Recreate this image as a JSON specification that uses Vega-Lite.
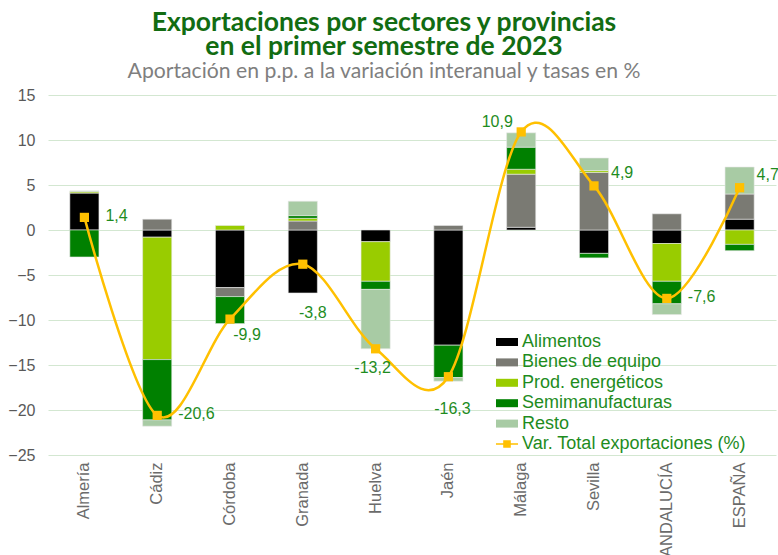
{
  "$schema": "https://vega.github.io/schema/vega-lite/v6.json",
  "width": 728,
  "height": 360,
  "autosize": {"type": "none"},
  "padding": {"left": 48, "top": 95, "right": 2, "bottom": 100},
  "background": "white",
  "config": {"view": {"stroke": null}, "font": "Liberation Sans"},
  "title": {
    "text": ["Exportaciones por sectores y provincias", "en el primer semestre de 2023"],
    "subtitle": "Aportación en p.p. a la variación interanual y tasas en %",
    "font": "Lato",
    "fontSize": 26.5,
    "fontWeight": "bold",
    "color": "#126C12",
    "lineHeight": 24,
    "subtitleFont": "Lato",
    "subtitleFontSize": 21.2,
    "subtitleColor": "#7F7F7F",
    "subtitlePadding": 0,
    "anchor": "middle",
    "frame": "group",
    "dx": -28,
    "offset": 5
  },
  "datasets": {
    "bars": [
      {"prov": "Almería", "sector": "Alimentos", "value": 4.1},
      {"prov": "Almería", "sector": "Prod. energéticos", "value": 0.15},
      {"prov": "Almería", "sector": "Resto", "value": 0.1},
      {"prov": "Almería", "sector": "Semimanufacturas", "value": -3.0},
      {"prov": "Cádiz", "sector": "Alimentos", "value": -0.8},
      {"prov": "Cádiz", "sector": "Bienes de equipo", "value": 1.2},
      {"prov": "Cádiz", "sector": "Prod. energéticos", "value": -13.6},
      {"prov": "Cádiz", "sector": "Semimanufacturas", "value": -6.7},
      {"prov": "Cádiz", "sector": "Resto", "value": -0.7},
      {"prov": "Córdoba", "sector": "Alimentos", "value": -6.4},
      {"prov": "Córdoba", "sector": "Bienes de equipo", "value": -1.0},
      {"prov": "Córdoba", "sector": "Prod. energéticos", "value": 0.5},
      {"prov": "Córdoba", "sector": "Semimanufacturas", "value": -3.0},
      {"prov": "Granada", "sector": "Alimentos", "value": -7.0},
      {"prov": "Granada", "sector": "Bienes de equipo", "value": 1.0},
      {"prov": "Granada", "sector": "Prod. energéticos", "value": 0.3},
      {"prov": "Granada", "sector": "Semimanufacturas", "value": 0.3},
      {"prov": "Granada", "sector": "Resto", "value": 1.6},
      {"prov": "Huelva", "sector": "Alimentos", "value": -1.3},
      {"prov": "Huelva", "sector": "Prod. energéticos", "value": -4.4},
      {"prov": "Huelva", "sector": "Semimanufacturas", "value": -0.9},
      {"prov": "Huelva", "sector": "Resto", "value": -6.6},
      {"prov": "Jaén", "sector": "Alimentos", "value": -12.8},
      {"prov": "Jaén", "sector": "Bienes de equipo", "value": 0.5},
      {"prov": "Jaén", "sector": "Semimanufacturas", "value": -3.6},
      {"prov": "Jaén", "sector": "Resto", "value": -0.4},
      {"prov": "Málaga", "sector": "Alimentos", "value": 0.3},
      {"prov": "Málaga", "sector": "Bienes de equipo", "value": 5.9},
      {"prov": "Málaga", "sector": "Prod. energéticos", "value": 0.55},
      {"prov": "Málaga", "sector": "Semimanufacturas", "value": 2.45},
      {"prov": "Málaga", "sector": "Resto", "value": 1.6},
      {"prov": "Sevilla", "sector": "Alimentos", "value": -2.6},
      {"prov": "Sevilla", "sector": "Bienes de equipo", "value": 6.4},
      {"prov": "Sevilla", "sector": "Prod. energéticos", "value": 0.2},
      {"prov": "Sevilla", "sector": "Semimanufacturas", "value": -0.5},
      {"prov": "Sevilla", "sector": "Resto", "value": 1.4},
      {"prov": "ANDALUCÍA", "sector": "Alimentos", "value": -1.5},
      {"prov": "ANDALUCÍA", "sector": "Bienes de equipo", "value": 1.8},
      {"prov": "ANDALUCÍA", "sector": "Prod. energéticos", "value": -4.2},
      {"prov": "ANDALUCÍA", "sector": "Semimanufacturas", "value": -2.5},
      {"prov": "ANDALUCÍA", "sector": "Resto", "value": -1.2},
      {"prov": "ESPAÑA", "sector": "Alimentos", "value": 1.2},
      {"prov": "ESPAÑA", "sector": "Bienes de equipo", "value": 2.8},
      {"prov": "ESPAÑA", "sector": "Prod. energéticos", "value": -1.6},
      {"prov": "ESPAÑA", "sector": "Semimanufacturas", "value": -0.7},
      {"prov": "ESPAÑA", "sector": "Resto", "value": 3.0}
    ],
    "total": [
      {"prov": "Almería", "total": 1.4, "label": "1,4"},
      {"prov": "Cádiz", "total": -20.6, "label": "-20,6"},
      {"prov": "Córdoba", "total": -9.9, "label": "-9,9"},
      {"prov": "Granada", "total": -3.8, "label": "-3,8"},
      {"prov": "Huelva", "total": -13.2, "label": "-13,2"},
      {"prov": "Jaén", "total": -16.3, "label": "-16,3"},
      {"prov": "Málaga", "total": 10.9, "label": "10,9"},
      {"prov": "Sevilla", "total": 4.9, "label": "4,9"},
      {"prov": "ANDALUCÍA", "total": -7.6, "label": "-7,6"},
      {"prov": "ESPAÑA", "total": 4.7, "label": "4,7"}
    ]
  },
  "encoding": {
    "x": {
      "field": "prov",
      "type": "nominal",
      "sort": ["Almería", "Cádiz", "Córdoba", "Granada", "Huelva", "Jaén", "Málaga", "Sevilla", "ANDALUCÍA", "ESPAÑA"],
      "scale": {"paddingInner": 0.6, "paddingOuter": 0.3},
      "axis": {
        "title": null,
        "labelAngle": -90,
        "labelAlign": "right",
        "labelBaseline": "middle",
        "labelFontSize": 16.5,
        "labelColor": "#6B6B6B",
        "labelPadding": 7,
        "ticks": false,
        "domain": false
      }
    }
  },
  "layer": [
    {
      "data": {"name": "bars"},
      "transform": [
        {"calculate": "indexof(['Alimentos','Bienes de equipo','Prod. energéticos','Semimanufacturas','Resto'], datum.sector)", "as": "ord"}
      ],
      "mark": {"type": "bar", "stroke": "#E8E8E8", "strokeWidth": 0.6},
      "encoding": {
        "y": {
          "field": "value",
          "type": "quantitative",
          "stack": "zero",
          "scale": {"domain": [-25, 15], "nice": false},
          "axis": {
            "title": null,
            "values": [-25, -20, -15, -10, -5, 0, 5, 10, 15],
            "labelFontSize": 16,
            "labelColor": "#595959",
            "labelPadding": 13,
            "ticks": false,
            "domain": false,
            "gridColor": "#D3E7D1",
            "gridWidth": 1.2
          }
        },
        "color": {
          "field": "sector",
          "type": "nominal",
          "scale": {
            "domain": ["Alimentos", "Bienes de equipo", "Prod. energéticos", "Semimanufacturas", "Resto"],
            "range": ["#000000", "#7A7A73", "#99CC00", "#008000", "#A8CBA4"]
          },
          "legend": {
            "title": null,
            "orient": "none",
            "legendX": 450,
            "legendY": 238,
            "symbolType": "M-1.6,-0.58 L1.6,-0.58 L1.6,0.58 L-1.6,0.58 Z",
            "symbolSize": 190,
            "symbolStrokeWidth": 0,
            "labelFontSize": 18,
            "labelColor": "#1E8C1E",
            "labelOffset": 6,
            "labelLimit": 300,
            "rowPadding": 2.4,
            "padding": 0
          }
        },
        "order": {"field": "ord", "type": "quantitative"}
      }
    },
    {
      "mark": {"type": "rule", "color": "#006400", "strokeWidth": 1.5},
      "encoding": {"y": {"datum": 0}}
    },
    {
      "data": {"name": "total"},
      "mark": {"type": "line", "interpolate": "cardinal", "tension": 0, "strokeWidth": 2.5},
      "encoding": {
        "y": {"field": "total", "type": "quantitative"},
        "stroke": {
          "datum": "Var. Total exportaciones (%)",
          "scale": {"range": ["#FFC000"]},
          "legend": {
            "title": null,
            "orient": "none",
            "legendX": 450,
            "legendY": 340,
            "symbolType": "M-1.6,-0.12 L1.6,-0.12 L1.6,0.12 L-1.6,0.12 Z M-0.55,-0.55 L0.55,-0.55 L0.55,0.55 L-0.55,0.55 Z",
            "symbolSize": 190,
            "symbolFillColor": "#FFC000",
            "symbolStrokeWidth": 0,
            "labelFontSize": 18,
            "labelColor": "#1E8C1E",
            "labelOffset": 6,
            "labelLimit": 300,
            "padding": 0
          }
        }
      }
    },
    {
      "data": {"name": "total"},
      "mark": {"type": "point", "shape": "square", "filled": true, "size": 85, "color": "#FFC000", "opacity": 1},
      "encoding": {"y": {"field": "total", "type": "quantitative"}}
    },
    {
      "data": {"name": "total"},
      "transform": [{"filter": "indexof(['Almería','Cádiz','ANDALUCÍA'], datum.prov) >= 0"}],
      "mark": {"type": "text", "align": "left", "baseline": "middle", "dx": 21, "dy": -1, "fontSize": 16, "color": "#1E8C1E"},
      "encoding": {"y": {"field": "total", "type": "quantitative"}, "text": {"field": "label"}}
    },
    {
      "data": {"name": "total"},
      "transform": [{"filter": "indexof(['Sevilla','ESPAÑA'], datum.prov) >= 0"}],
      "mark": {"type": "text", "align": "left", "baseline": "middle", "dx": 17, "dy": -13, "fontSize": 16, "color": "#1E8C1E"},
      "encoding": {"y": {"field": "total", "type": "quantitative"}, "text": {"field": "label"}}
    },
    {
      "data": {"name": "total"},
      "transform": [{"filter": "datum.prov == 'Córdoba'"}],
      "mark": {"type": "text", "align": "center", "baseline": "middle", "dx": 17, "dy": 16, "fontSize": 16, "color": "#1E8C1E"},
      "encoding": {"y": {"field": "total", "type": "quantitative"}, "text": {"field": "label"}}
    },
    {
      "data": {"name": "total"},
      "transform": [{"filter": "datum.prov == 'Granada'"}],
      "mark": {"type": "text", "align": "center", "baseline": "middle", "dx": 10, "dy": 49, "fontSize": 16, "color": "#1E8C1E"},
      "encoding": {"y": {"field": "total", "type": "quantitative"}, "text": {"field": "label"}}
    },
    {
      "data": {"name": "total"},
      "transform": [{"filter": "datum.prov == 'Huelva'"}],
      "mark": {"type": "text", "align": "center", "baseline": "middle", "dx": -3, "dy": 19, "fontSize": 16, "color": "#1E8C1E"},
      "encoding": {"y": {"field": "total", "type": "quantitative"}, "text": {"field": "label"}}
    },
    {
      "data": {"name": "total"},
      "transform": [{"filter": "datum.prov == 'Jaén'"}],
      "mark": {"type": "text", "align": "center", "baseline": "middle", "dx": 4, "dy": 32, "fontSize": 16, "color": "#1E8C1E"},
      "encoding": {"y": {"field": "total", "type": "quantitative"}, "text": {"field": "label"}}
    },
    {
      "data": {"name": "total"},
      "transform": [{"filter": "datum.prov == 'Málaga'"}],
      "mark": {"type": "text", "align": "center", "baseline": "middle", "dx": -24, "dy": -10, "fontSize": 16, "color": "#1E8C1E"},
      "encoding": {"y": {"field": "total", "type": "quantitative"}, "text": {"field": "label"}}
    }
  ],
  "resolve": {"scale": {"stroke": "independent"}}
}
